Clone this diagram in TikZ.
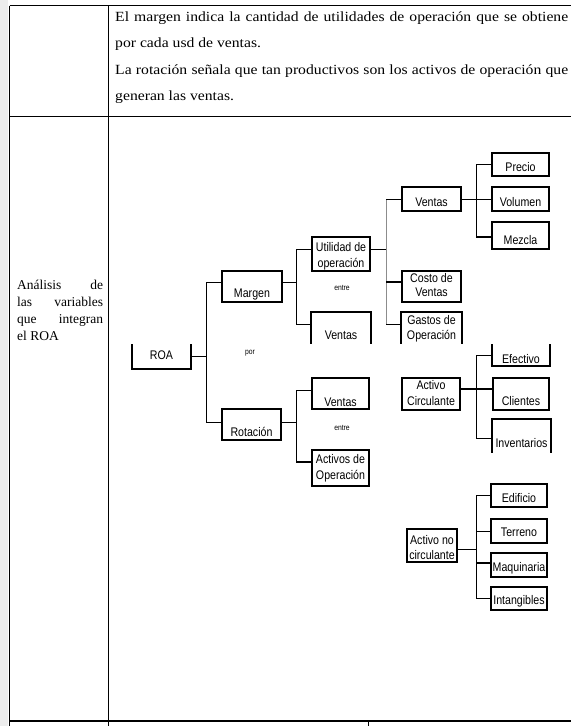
\documentclass[tikz,border=0pt]{standalone}
\usepackage{fontspec}
\setmainfont{Liberation Serif}
\newfontfamily\topserif[FakeStretch=1.12]{Liberation Serif}
\newfontfamily\diag[FakeStretch=0.85]{Liberation Sans}
\newcommand{\txtlow}[2]{\raisebox{-#1pt}[0pt][0pt]{#2}}
\newcommand{\txttwo}[4]{\raisebox{-#1pt}[0pt][0pt]{\fontsize{12.5}{#2}\selectfont\begin{tabular}[t]{@{}c@{}}#3\\#4\end{tabular}}}
\begin{document}
\begin{tikzpicture}[x=1pt,y=-1pt,
  bx/.style={draw,line width=1.7pt,inner sep=0pt,font=\diag\fontsize{12.5}{14}\selectfont},
  bxo/.style={inner sep=0pt,outer sep=0.85pt,font=\diag\fontsize{12.5}{14}\selectfont},
  edge/.style={line width=1.7pt,line join=miter},
  cn/.style={line width=0.8pt},
  cnt/.style={line width=1.8pt},
  small/.style={inner sep=0pt,font=\diag\fontsize{8}{9}\selectfont},
  tbl/.style={line width=0.9pt}]
\useasboundingbox (0,0) rectangle (571,726);
\fill[white] (0,0) rectangle (571,726);
\fill[black!7] (0,0) rectangle (8,726);
% table
\draw[tbl] (9.5,5.5) -- (571,5.5);
\draw[tbl] (9.5,5.5) -- (9.5,726);
\draw[tbl] (108.5,5.5) -- (108.5,726);
\draw[tbl] (9.5,116) -- (571,116);
\draw[line width=2pt] (9.5,721) -- (571,721);
\draw[tbl] (368.5,721) -- (368.5,726);
% texts
\node[anchor=base west,text width=453pt,align=justify,inner sep=0pt,font=\topserif\fontsize{14}{26.3}\selectfont] (top) at (115,21.5)
 {El margen indica la cantidad de utilidades de operación que se obtiene\linebreak por cada usd de ventas.\par
  La rotación señala que tan productivos son los activos de operación que\linebreak generan las ventas.};
\node[anchor=base west,text width=86pt,align=justify,inner sep=0pt,font=\fontsize{13.5}{17.3}\selectfont] (left) at (17,289)
 {Análisis de\linebreak las variables\linebreak que integran\linebreak el ROA};
% boxes
\node[bxo,minimum width=57pt,minimum height=23pt] (roa) at (161.5,356.5) {\txtlow{3}{ROA}};
\node[bx,minimum width=60pt,minimum height=31pt] (margen) at (252,286.5) {\txtlow{11}{Margen}};
\node[bx,minimum width=59pt,minimum height=31pt] (rot) at (251.5,424.5) {\txtlow{11.5}{Rotación}};
\node[bx,minimum width=58pt,minimum height=34pt] (util) at (341,254) {\txttwo{-2.5}{16}{Utilidad de}{operación}};
\node[bxo,minimum width=58pt,minimum height=30pt] (vm) at (341,328) {\txtlow{11.5}{Ventas}};
\node[bx,minimum width=57pt,minimum height=31pt] (vr) at (340.5,393.5) {\txtlow{12.5}{Ventas}};
\node[bx,minimum width=57pt,minimum height=36pt] (act) at (340.5,468) {\txttwo{-4.5}{16}{Activos de}{Operación}};
\node[bx,minimum width=59pt,minimum height=24pt] (vt) at (431.5,199) {\txtlow{7}{Ventas}};
\node[bx,minimum width=59pt,minimum height=31pt] (costo) at (431.5,286.5) {\txttwo{-4.5}{14.5}{Costo de}{Ventas}};
\node[bxo,minimum width=59pt,minimum height=30pt] (gastos) at (431.5,328) {\txttwo{-3.7}{15}{Gastos de}{Operación}};
\node[bx,minimum width=57pt,minimum height=23pt] (precio) at (520.5,164.5) {\txtlow{6.8}{Precio}};
\node[bx,minimum width=57pt,minimum height=24pt] (vol) at (520.5,199) {\txtlow{7}{Volumen}};
\node[bx,minimum width=57pt,minimum height=27pt] (mezcla) at (520.5,235.5) {\txtlow{8.8}{Mezcla}};
\node[bx,minimum width=58pt,minimum height=32pt] (ac) at (431,394) {\txttwo{-4.7}{16}{Activo}{Circulante}};
\node[bxo,minimum width=56pt,minimum height=20pt] (efec) at (521,355) {\txtlow{8.3}{Efectivo}};
\node[bx,minimum width=56pt,minimum height=32pt] (cli) at (521,394) {\txtlow{11.6}{Clientes}};
\node[bxo,minimum width=57pt,minimum height=32pt] (inv) at (521.5,436) {\txtlow{11.3}{Inventarios}};
\node[bx,minimum width=50pt,minimum height=33pt] (anc) at (432,545.5) {\txttwo{-1.2}{15}{Activo no}{circulante}};
\node[bx,minimum width=56pt,minimum height=23pt] (edif) at (519,495.5) {\txtlow{6.5}{Edificio}};
\node[bx,minimum width=56pt,minimum height=24pt] (terr) at (519,531) {\txtlow{5.8}{Terreno}};
\node[bx,minimum width=56pt,minimum height=24pt] (maq) at (519,565) {\txtlow{6}{Maquinaria}};
\node[bx,minimum width=56pt,minimum height=23pt] (intang) at (519,598.5) {\txtlow{6.3}{Intangibles}};
% open boxes
\draw[edge] (roa.north west) -- (roa.south west) -- (roa.south east) -- (roa.north east);
\draw[edge] (vm.south west) -- (vm.north west) -- (vm.north east) -- (vm.south east);
\draw[edge] (gastos.south west) -- (gastos.north west) -- (gastos.north east) -- (gastos.south east);
\draw[edge] (efec.north west) -- (efec.south west) -- (efec.south east) -- (efec.north east);
\draw[edge] (inv.south west) -- (inv.north west) -- (inv.north east) -- (inv.south east);
% small labels
\node[small] (por) at (250,353) {por};
\node[small] (entre1) at (342,288) {entre};
\node[small] (entre2) at (342,428) {entre};
% bars
\coordinate (b1) at (206,0);
\coordinate (b2) at (296,0);
\coordinate (b3) at (386,0);
\coordinate (b4) at (476,0);
% ROA
\coordinate (margen-w) at ([yshift=4pt]margen.west);
\coordinate (rot-w) at ([yshift=2.5pt]rot.west);
\draw[cn] (roa.east) -- (roa.east -| b1);
\draw[cn] (margen-w -| b1) -- (rot-w -| b1);
\draw[cn] (margen-w -| b1) -- (margen-w);
\draw[cn] (rot-w -| b1) -- (rot-w);
% Margen
\coordinate (margen-e) at ([yshift=4pt]margen.east);
\coordinate (util-w) at ([yshift=5pt]util.west);
\coordinate (vm-w) at ([yshift=4pt]vm.west);
\draw[cnt] (margen-e) -- (margen-e -| b2);
\draw[cn] (util-w -| b2) -- (vm-w -| b2);
\draw[cn] (util-w -| b2) -- (util-w);
\draw[cn] (vm-w -| b2) -- (vm-w);
% Rotacion
\coordinate (rot-e) at ([yshift=2.5pt]rot.east);
\coordinate (vr-w) at ([yshift=3.5pt]vr.west);
\coordinate (act-w) at ([yshift=6pt]act.west);
\draw[cn] (rot-e) -- (rot-e -| b2);
\draw[cn] (vr-w -| b2) -- (act-w -| b2);
\draw[cn] (vr-w -| b2) -- (vr-w);
\draw[cnt] (act-w -| b2) -- (act-w);
% Utilidad
\coordinate (util-e) at ([yshift=5pt]util.east);
\coordinate (costo-w) at ([yshift=4.5pt]costo.west);
\coordinate (gastos-w) at ([yshift=4pt]gastos.west);
\draw[cn] (util-e) -- (util-e -| b3);
\draw[cn,black!45] (vt.west -| b3) -- (gastos-w -| b3);
\draw[cn] (vt.west -| b3) -- (vt.west);
\draw[cnt] (costo-w -| b3) -- (costo-w);
\draw[cn] (gastos-w -| b3) -- (gastos-w);
% Ventas top
\coordinate (mezcla-w) at ([yshift=-1.5pt]mezcla.west);
\draw[cn] (vt.east) -- (vt.east -| b4);
\draw[cn] (precio.west -| b4) -- (mezcla-w -| b4);
\draw[cnt] (precio.west -| b4) -- (precio.west);
\draw[cn] (vol.west -| b4) -- (vol.west);
\draw[cnt] (mezcla-w -| b4) -- (mezcla-w);
% Activo circulante
\coordinate (ac-e) at ([yshift=5pt]ac.east);
\coordinate (cli-w) at ([yshift=5pt]cli.west);
\coordinate (inv-w) at ([yshift=-2pt]inv.west);
\draw[cnt] (ac-e) -- (ac-e -| b4);
\draw[cn] (efec.west -| b4) -- (inv-w -| b4);
\draw[cn] (efec.west -| b4) -- (efec.west);
\draw[cnt] (cli-w -| b4) -- (cli-w);
\draw[cn] (inv-w -| b4) -- (inv-w);
% Activo no circulante
\coordinate (anc-e) at ([yshift=-3.5pt]anc.east);
\coordinate (maq-w) at ([yshift=2pt]maq.west);
\draw[cn] (anc-e) -- (anc-e -| b4);
\draw[cn] (edif.west -| b4) -- (intang.west -| b4);
\draw[cnt] (edif.west -| b4) -- (edif.west);
\draw[cn] (terr.west -| b4) -- (terr.west);
\draw[cnt] (maq-w -| b4) -- (maq-w);
\draw[cn] (intang.west -| b4) -- (intang.west);
\end{tikzpicture}
\end{document}
